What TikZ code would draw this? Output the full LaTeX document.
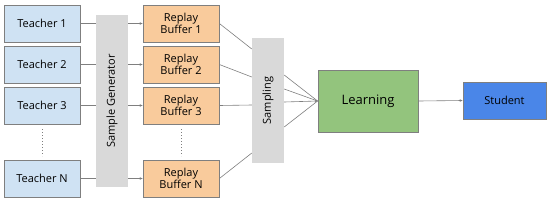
\documentclass[tikz,border=0pt]{standalone}
\usepackage{fontspec}
\setmainfont{Open Sans}
\usetikzlibrary{arrows.meta}
\definecolor{tblue}{HTML}{CFE2F3}
\definecolor{borange}{HTML}{F9CB9C}
\definecolor{ggrey}{HTML}{D9D9D9}
\definecolor{lgreen}{HTML}{93C47D}
\definecolor{sblue}{HTML}{4A86E8}
\definecolor{edge}{HTML}{7F7F7F}
\begin{document}
\begin{tikzpicture}[x=1pt,y=-1pt,
  box/.style={draw=edge,line width=0.8pt,minimum width=76pt,minimum height=37pt,inner sep=0pt,font=\fontsize{11}{12.5}\selectfont,align=center},
  teacher/.style={box,fill=tblue},
  buffer/.style={box,fill=borange},
  bar/.style={fill=ggrey,inner sep=0pt,minimum width=32pt,font=\fontsize{11}{12}\selectfont},
  conn/.style={draw=edge,line width=0.6pt},
  arr/.style={conn,-{Stealth[length=3pt,width=2.6pt]}},
  dots/.style={draw=edge,line width=0.8pt,dash pattern=on 0.8pt off 2.2pt}
]
\useasboundingbox (0,0) rectangle (550,202);
\node[teacher] (t1) at (42,23.5) {Teacher 1};
\node[teacher] (t2) at (42,64.5) {Teacher 2};
\node[teacher] (t3) at (42,105.5) {Teacher 3};
\node[teacher] (tn) at (42,178.5) {Teacher N};
\node[bar,minimum height=172pt] (gen) at (112,101) {\rotatebox{90}{Sample Generator}};
\node[buffer] (b1) at (181,23.5) {Replay\\Buffer 1};
\node[buffer] (b2) at (181,64.5) {Replay\\Buffer 2};
\node[buffer] (b3) at (181,105.5) {Replay\\Buffer 3};
\node[buffer] (bn) at (181,178.5) {Replay\\Buffer N};
\node[bar,minimum height=125pt] (samp) at (268,100.5) {\rotatebox{90}{Sampling}};
\node[box,fill=lgreen,minimum width=100pt,minimum height=62pt,font=\fontsize{13}{15}\selectfont] (learn) at (368,101) {Learning};
\node[box,fill=sblue,minimum width=83pt,minimum height=37pt] (stu) at (504.5,100.5) {Student};
% dots
\coordinate (d1a) at (42,129); \coordinate (d1b) at (42,156);
\coordinate (d2a) at (181,129); \coordinate (d2b) at (181,156);
\draw[dots] (d1a) -- (d1b);
\draw[dots] (d2a) -- (d2b);
% teacher -> generator
\foreach \i in {1,2,3,n}{
  \draw[conn] (t\i.east) -- (t\i.east -| gen.west);
  \draw[arr] (t\i.east -| gen.east) -- (b\i.west);
}
% buffers -> sampling
\draw[conn] (b1.east) -- (samp.west |- 0,49);
\draw[conn] (b2.east) -- (samp.west |- 0,77);
\draw[conn] (b3.east) -- (samp.west |- 0,105);
\draw[conn] (bn.east) -- (samp.west |- 0,153);
% sampling -> learning
\draw[conn] (samp.east |- 0,75) -- (learn.west);
\draw[conn] (samp.east |- 0,89) -- (learn.west);
\draw[conn] (samp.east |- 0,127) -- (learn.west);
\draw[arr] (samp.east |- 0,102) -- (learn.west);
% learning -> student
\draw[arr] (learn.east) -- (stu.west);
\end{tikzpicture}
\end{document}
